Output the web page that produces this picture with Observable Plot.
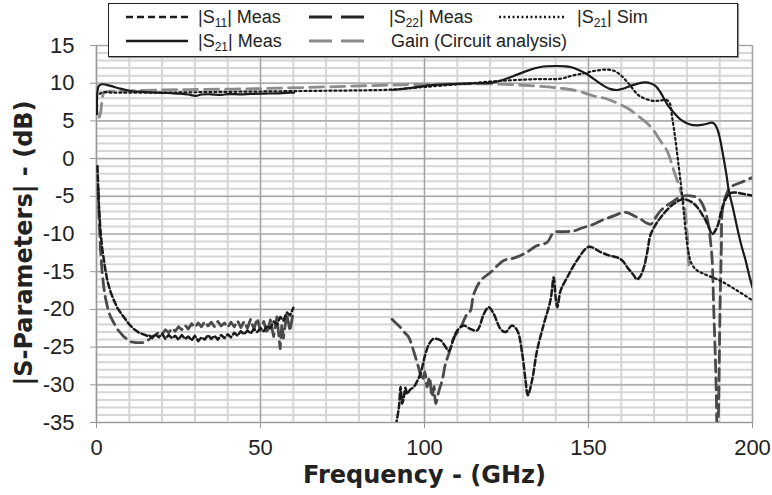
<!DOCTYPE html>
<html><head><meta charset="utf-8">
<script src="https://cdn.jsdelivr.net/npm/d3@7"></script>
<script src="https://cdn.jsdelivr.net/npm/@observablehq/plot@0.6"></script>
<style>
body{margin:0;background:#fff;}
#wrap{position:relative;width:772px;height:495px;font-family:"Liberation Sans",Arial,sans-serif;}
#legend{position:absolute;left:108px;top:3px;width:628px;height:52px;border:1.5px solid #222;background:#fff;box-shadow:1px 1px 1px #999;}
#legend svg{position:absolute;left:0;top:0;}
.li{position:absolute;font-size:18px;color:#222;white-space:nowrap;line-height:20px;}
.li sub{font-size:12px;vertical-align:-4px;line-height:0;}
</style></head>
<body><div id="wrap">
<div id="chart"></div>
<div id="legend">
<svg width="628" height="52">
<line x1="17" x2="79" y1="13" y2="13" stroke="#1a1a1a" stroke-width="2.5" stroke-dasharray="7,4"/>
<line x1="17" x2="79" y1="37" y2="37" stroke="#1a1a1a" stroke-width="2.5"/>
<line x1="200" x2="255" y1="13" y2="13" stroke="#222" stroke-width="3" stroke-dasharray="23,9"/>
<line x1="200" x2="255" y1="37" y2="37" stroke="#8c8c8c" stroke-width="3" stroke-dasharray="23,9"/>
<line x1="390" x2="455" y1="13" y2="13" stroke="#1a1a1a" stroke-width="2.5" stroke-dasharray="2,2.5"/>
</svg>
<div class="li" style="left:89px;top:3px">|S<sub>11</sub>| Meas</div>
<div class="li" style="left:89px;top:27px">|S<sub>21</sub>| Meas</div>
<div class="li" style="left:280px;top:3px">|S<sub>22</sub>| Meas</div>
<div class="li" style="left:282px;top:27px">Gain (Circuit analysis)</div>
<div class="li" style="left:468px;top:3px">|S<sub>21</sub>| Sim</div>
</div>
</div>
<script>
// ---- Data: [frequency GHz, dB] ----
const s21MeasLow = [[0.2,5.9],[0.7,9.64],[1.7,9.86],[4.3,9.64],[7,9.3],[10.4,8.97],[14,8.85],[18.5,8.75],[22,8.7],[25.6,8.62],[28,8.5],[30.2,8.31],[32,8.5],[34.8,8.53],[38,8.45],[40,8.55],[43.9,8.53],[47,8.58],[51,8.62],[55,8.66],[58,8.72],[60.2,8.75]];
const s21MeasHigh = [[90,9.1],[92.7,9.2],[96,9.4],[102.8,9.77],[108,9.88],[113,9.95],[117,10.0],[121.1,10.12],[124,10.45],[127.2,10.96],[131,11.6],[135.4,12.15],[140.5,12.28],[142.5,12.25],[144.5,12.15],[147,11.75],[149.6,11.18],[152,10.45],[154.7,9.64],[156.5,9.25],[158.7,9.1],[160.7,9.3],[162.8,9.64],[165,9.95],[167.4,10.1],[169,9.95],[170.4,9.64],[172,8.75],[174,7.2],[176,6.1],[178,5.2],[180.5,4.6],[183.1,4.4],[185.5,4.55],[187.7,4.77],[188.6,4.5],[189.2,4.0],[190,2.8],[190.8,1.0],[192,-2.0],[192.8,-4.3],[194,-6.5],[195.3,-9.1],[196.6,-11.5],[197.9,-13.5],[199,-15.5],[200,-17.1]];
const s21Sim = [[1,8.6],[2,8.8],[5,8.75],[10,8.75],[20,8.75],[30,8.8],[40,8.85],[50,8.9],[60,8.95],[70,9.0],[80,9.05],[90,9.15],[100,9.5],[110,9.85],[113,9.95],[122.6,10.3],[133.3,10.52],[141.5,10.6],[145,11.0],[149,11.35],[152,11.65],[155.7,11.8],[158,11.6],[160,11.0],[162.5,9.8],[165,8.5],[167.5,7.9],[170,7.65],[172,7.7],[173.7,7.8],[174.8,7.3],[175.5,5.5],[176.5,2.5],[177.5,-1],[178.5,-4.7],[179.6,-9.5],[180.5,-12.5],[181.5,-14],[183,-14.8],[185.2,-15.3],[190.2,-16.2],[195.3,-17.5],[200,-18.8]];
const gainCircuit = [[0.8,5.5],[1.2,6.0],[2.2,8.7],[3,8.85],[10,8.97],[18.5,9.1],[28.7,9.15],[49,9.28],[69.3,9.5],[87.6,9.73],[100,9.85],[110,9.9],[120,9.9],[128.7,9.77],[137.8,9.5],[141.5,9.33],[146.9,8.95],[151.6,8.3],[155.7,7.9],[161.8,6.7],[165,5.7],[169,4.2],[172,2.3],[174,1.0],[176,-1.6],[177.5,-3.5],[179.1,-6.0],[180.1,-10],[180.6,-14.4]];
const s11Low = [[0.3,-1],[0.7,-6],[1.2,-9.5],[1.7,-11.8],[2.5,-14.2],[3.3,-16.2],[4.3,-17.7],[5.3,-18.8],[6.5,-19.9],[8.3,-21],[10,-22],[11.4,-22.6],[13,-23.1],[15.5,-23.5],[16,-23.4],[17,-23.8],[18,-23.3],[19,-23.7],[20,-23.2],[21,-23.9],[22,-23.4],[23,-23.8],[24,-23.5],[25,-24.0],[26,-23.4],[27,-23.9],[28,-23.6],[29,-24.1],[30,-23.5],[31,-24.2],[32,-23.7],[33,-24.0],[34,-23.4],[35,-23.9],[36,-23.5],[37,-24.0],[38,-23.4],[39,-23.8],[40,-23.3],[41,-23.7],[42,-23.1],[43,-23.5],[44,-22.9],[45,-23.3],[46,-22.8],[47,-23.2],[48,-22.6],[49,-23.0],[50,-22.5],[51,-22.9],[52,-22.2],[53,-22.5],[54,-21.6],[55,-22.0],[56,-21.0],[57,-21.5],[58,-20.4],[59,-20.8],[60,-19.8]];
const s11High = [[91.2,-35.5],[92.2,-33],[92.7,-30.3],[93.2,-32.5],[93.7,-31.6],[94.2,-30.4],[94.7,-31.2],[95.7,-30.6],[96.7,-30.3],[97.8,-29.5],[98.8,-28.5],[100.3,-25.9],[101.5,-24.5],[102.8,-23.9],[104.9,-24.1],[106.3,-24.9],[107.4,-25.5],[108.8,-24],[110,-22.8],[112,-22.15],[114,-22.6],[116,-22.8],[118.1,-20.6],[119.6,-19.7],[121.1,-20.6],[123.2,-22.6],[124.7,-23.0],[126.7,-22.15],[128.3,-22.8],[129.8,-25.9],[130.8,-29.4],[131.5,-31.4],[132.8,-29.4],[134.3,-25.5],[136.4,-21.9],[138.4,-18.8],[139.4,-15.75],[140,-18.5],[140.5,-19.7],[141.5,-17.5],[143.5,-15.75],[146.5,-13.5],[150.1,-11.7],[153.7,-12.4],[156.7,-12.9],[158.7,-13.1],[160.5,-13.6],[161.8,-14.4],[163.5,-15.3],[164.8,-16.0],[165.8,-15.6],[166.9,-14.4],[168,-12.2],[169,-10.0],[172,-7.8],[176,-6.0],[179.1,-5.4],[182.2,-6.0],[185.2,-7.8],[186.5,-8.9],[187.7,-10],[189.2,-9.1],[190.8,-6.5],[192.8,-4.7],[194.3,-4.5],[197.4,-4.7],[200,-4.9]];
const s22Low = [[0.5,-4],[0.8,-8],[1.2,-12],[1.7,-15],[2.2,-17],[2.7,-18.4],[3.5,-20],[4.3,-21],[5.3,-21.8],[6.5,-22.7],[8.3,-23.6],[10.4,-24.3],[12,-24.4],[14.4,-24.4],[16,-24.0],[17,-23.6],[18,-23.4],[19,-23.0],[20,-23.3],[21,-22.7],[22,-23.1],[23,-22.5],[24,-22.9],[25,-22.3],[26,-22.7],[27,-22.1],[28,-22.6],[29,-21.9],[30,-22.4],[31,-21.8],[32,-22.3],[33,-21.6],[34,-22.2],[35,-21.7],[36,-22.3],[37,-21.6],[38,-22.2],[39,-21.8],[40,-22.4],[41,-21.7],[42,-22.3],[43,-21.5],[44,-22.4],[45,-21.6],[46,-22.5],[47,-21.3],[48,-22.6],[49,-21.2],[50,-22.8],[51,-21.6],[52,-23.2],[53,-21.4],[54,-23.6],[55,-21.0],[56,-25.2],[56.5,-22.0],[57,-23.8],[58,-20.6],[59,-22.9],[60,-20.3]];
const s22High = [[90.1,-21.3],[91.5,-21.9],[92.7,-22.4],[94,-23.1],[95.2,-23.7],[96.3,-25],[97.3,-26.4],[98.3,-27.9],[99.3,-29.4],[100.1,-28.3],[100.8,-30.3],[101.5,-29],[102.3,-31.6],[102.9,-30.2],[103.4,-32.5],[104.4,-30.8],[105.4,-29.4],[106.4,-27.2],[107.4,-25.9],[109,-23.7],[111,-22.4],[113,-20.6],[114,-20.2],[115,-18],[117.1,-16.2],[120.1,-15.1],[124.2,-13.5],[127.2,-13.2],[131.3,-12.4],[134,-11.6],[137.4,-11.1],[139.4,-9.8],[142,-9.7],[145.5,-9.6],[148,-9.2],[151.6,-8.7],[154.5,-8.1],[157.7,-7.6],[160,-7.2],[161.8,-7.15],[164,-7.6],[165.9,-8.0],[167.5,-8.5],[169,-8.7],[170.5,-7.8],[172,-6.9],[174,-6.2],[176,-5.6],[178,-5.1],[180.1,-4.9],[182,-5.0],[183.1,-5.15],[184.3,-5.7],[185.2,-6.5],[186,-7.6],[186.7,-9.1],[187.2,-11],[187.7,-13.5],[188.2,-20.2],[188.7,-26.8],[189,-32],[189.3,-40],[189.7,-32],[190.1,-20],[190.5,-12],[190.8,-6.9],[191.8,-5],[193.3,-3.8],[196.3,-3.2],[200,-2.5]];

// ---- Axis ticks and titles ----
const xMajorTicks = [0, 50, 100, 150, 200];
const yMajorTicks = [-35, -30, -25, -20, -15, -10, -5, 0, 5, 10, 15];
const xMinorTicks = d3.range(0, 201, 10);
const yMinorTicks = d3.range(-35, 16, 1);
const xTitle = "Frequency - (GHz)";
const yTitle = "|S-Parameters| - (dB)";

const X = d => d[0], Y = d => d[1];
const fmt = d => String(d);

const chart = Plot.plot({
  width: 772, height: 495,
  marginLeft: 96, marginRight: 20, marginTop: 45, marginBottom: 73,
  x: {domain: [0, 200]},
  y: {domain: [-35, 15]},
  style: {fontFamily: "'Liberation Sans', Arial, sans-serif", fontSize: "21px", color: "#222", background: "#fff", overflow: "visible"},
  marks: [
    Plot.gridX(xMinorTicks, {stroke: "#d6d6d6", strokeOpacity: 1, strokeWidth: 2}),
    Plot.gridY(yMinorTicks, {stroke: "#d6d6d6", strokeOpacity: 1, strokeWidth: 2}),
    Plot.gridX(xMajorTicks, {stroke: "#a3a3a3", strokeOpacity: 1, strokeWidth: 1.2}),
    Plot.gridY(yMajorTicks, {stroke: "#a3a3a3", strokeOpacity: 1, strokeWidth: 1.2}),
    Plot.axisX(xMajorTicks, {tickSize: 6, tickPadding: 11, tickFormat: fmt, label: null, stroke: "#999", fill: "#222", fontSize: 22}),
    Plot.axisY(yMajorTicks, {tickSize: 6, tickPadding: 16, tickFormat: fmt, label: null, stroke: "#999", fill: "#222", fontSize: 22}),
    Plot.ruleX([0], {stroke: "#999", strokeWidth: 1.2}),
    Plot.ruleY([-35], {stroke: "#999", strokeWidth: 1.2}),
    Plot.line(gainCircuit, {x: X, y: Y, stroke: "#8c8c8c", strokeWidth: 2.8, strokeDasharray: "14,7", curve: "catmull-rom", clip: true}),
    Plot.line(s22Low, {x: X, y: Y, stroke: "#4a4a4a", strokeWidth: 2.8, strokeDasharray: "12,6", clip: true}),
    Plot.line(s22High, {x: X, y: Y, stroke: "#4a4a4a", strokeWidth: 2.8, strokeDasharray: "12,6", curve: "catmull-rom", clip: true}),
    Plot.line(s11Low, {x: X, y: Y, stroke: "#1a1a1a", strokeWidth: 2.5, strokeDasharray: "6,3", clip: true}),
    Plot.line(s11High, {x: X, y: Y, stroke: "#1a1a1a", strokeWidth: 2.5, strokeDasharray: "6,3", curve: "catmull-rom", clip: true}),
    Plot.line(s21Sim, {x: X, y: Y, stroke: "#1a1a1a", strokeWidth: 2.2, strokeDasharray: "2,3", curve: "catmull-rom", clip: true}),
    Plot.line(s21MeasLow, {x: X, y: Y, stroke: "#1a1a1a", strokeWidth: 2.2, curve: "catmull-rom", clip: true}),
    Plot.line(s21MeasHigh, {x: X, y: Y, stroke: "#1a1a1a", strokeWidth: 2.2, curve: "catmull-rom", clip: true}),
    Plot.text([xTitle], {frameAnchor: "bottom", lineAnchor: "middle", textAnchor: "middle", dy: 53, fontWeight: "bold", fontSize: 24, fontFamily: "'DejaVu Sans', sans-serif", fill: "#222"}),
    Plot.text([yTitle], {frameAnchor: "left", lineAnchor: "middle", textAnchor: "middle", rotate: -90, dx: -72, dy: 9, fontWeight: "bold", fontSize: 24, fontFamily: "'DejaVu Sans', sans-serif", fill: "#222"})
  ]
});
document.getElementById("chart").appendChild(chart);
</script>
</body></html>
